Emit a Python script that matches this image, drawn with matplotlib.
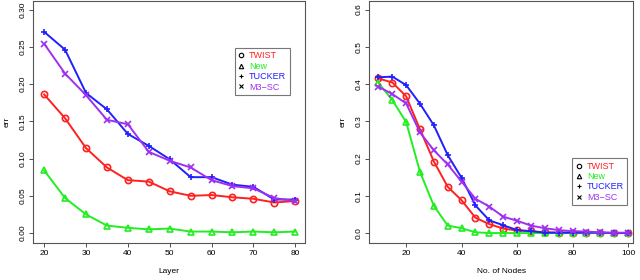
import matplotlib
matplotlib.use("Agg")
import matplotlib.pyplot as plt
from matplotlib.lines import Line2D

layers = [20, 25, 30, 35, 40, 45, 50, 55, 60, 65, 70, 75, 80]
l_twist = [0.186, 0.154, 0.114, 0.088, 0.071, 0.069, 0.056, 0.050, 0.051, 0.048, 0.046, 0.041, 0.043]
l_new = [0.084, 0.047, 0.025, 0.010, 0.007, 0.005, 0.006, 0.002, 0.002, 0.001, 0.002, 0.001, 0.002]
l_tucker = [0.270, 0.246, 0.188, 0.166, 0.133, 0.117, 0.099, 0.075, 0.075, 0.065, 0.062, 0.045, 0.045]
l_m3sc = [0.254, 0.214, 0.185, 0.152, 0.146, 0.109, 0.097, 0.088, 0.071, 0.063, 0.060, 0.047, 0.043]

nodes = [10, 15, 20, 25, 30, 35, 40, 45, 50, 55, 60, 65, 70, 75, 80, 85, 90, 95, 100]
n_twist = [0.415, 0.404, 0.367, 0.278, 0.192, 0.124, 0.088, 0.041, 0.024, 0.012, 0.007, 0.005, 0.002,
           0.001, 0.001, 0.001, 0.000, 0.000, 0.000]
n_new = [0.403, 0.357, 0.298, 0.164, 0.073, 0.020, 0.013, 0.002, 0.000, 0.000, 0.000, 0.000, 0.000,
         0.000, 0.000, 0.000, 0.000, 0.000, 0.000]
n_tucker = [0.418, 0.420, 0.397, 0.347, 0.289, 0.209, 0.148, 0.074, 0.034, 0.021, 0.008, 0.005, 0.001,
            0.001, 0.001, 0.001, 0.001, 0.000, 0.000]
n_m3sc = [0.393, 0.373, 0.348, 0.270, 0.222, 0.184, 0.138, 0.092, 0.071, 0.044, 0.033, 0.020, 0.013,
          0.008, 0.005, 0.004, 0.002, 0.001, 0.001]

names = ["TWIST", "New", "TUCKER", "M3\u2212SC"]
colors = ["#ff2020", "#22ee22", "#2020ff", "#a030f0"]
markers = ["o", "^", "+", "x"]

plt.rcParams["font.family"] = "Liberation Sans"

fig = plt.figure(figsize=(6.4, 2.8), dpi=100)
ax1 = fig.add_axes([0.052, 0.132, 0.425, 0.866])
ax2 = fig.add_axes([0.577, 0.132, 0.412, 0.866])


def draw(ax, x, series, xlim, ylim, yticks, yfmt, xticks, xlabel, legend_pos):
    for s, c, m in zip(series, colors, markers):
        ax.plot(x, s, color=c, lw=1.4, marker=m, ms=4.5, mfc="none", mec=c, mew=1.2)
    ax.set_xlim(*xlim)
    ax.set_ylim(*ylim)
    ax.set_yticks(yticks)
    ax.set_yticklabels([yfmt % v for v in yticks], rotation=90, va="center")
    ax.set_xticks(xticks)
    ax.tick_params(labelsize=6, length=3, width=0.6, color="#333333", pad=2)
    for sp in ax.spines.values():
        sp.set_linewidth(0.8)
        sp.set_color("#555555")
    ax.set_xlabel(xlabel, fontsize=6, labelpad=8)
    ax.set_ylabel("err", fontsize=6, labelpad=6)
    handles = [Line2D([], [], ls="none", marker=m, color="black", mfc="none", ms=3.2, mew=0.8)
               for m in markers]
    leg = ax.legend(handles, names, loc="upper left", bbox_to_anchor=legend_pos, fontsize=6.5,
                    frameon=True, fancybox=False, edgecolor="#555555", handlelength=0.6,
                    handletextpad=0.6, borderpad=0.4, labelspacing=0.15, borderaxespad=0)
    leg.get_frame().set_linewidth(0.8)
    for t, c in zip(leg.get_texts(), colors):
        t.set_color(c)


draw(ax1, layers, [l_twist, l_new, l_tucker, l_m3sc], (17.4, 82.4), (-0.0134, 0.312),
     [0.0, 0.05, 0.10, 0.15, 0.20, 0.25, 0.30], "%.2f", [20, 30, 40, 50, 60, 70, 80], "Layer",
     (0.74, 0.805))
draw(ax2, nodes, [n_twist, n_new, n_tucker, n_m3sc], (6.7, 101.8), (-0.0268, 0.624),
     [0.0, 0.1, 0.2, 0.3, 0.4, 0.5, 0.6], "%.1f", [20, 40, 60, 80, 100], "No. of Nodes",
     (0.77, 0.35))

fig.savefig("out.png", dpi=100)
